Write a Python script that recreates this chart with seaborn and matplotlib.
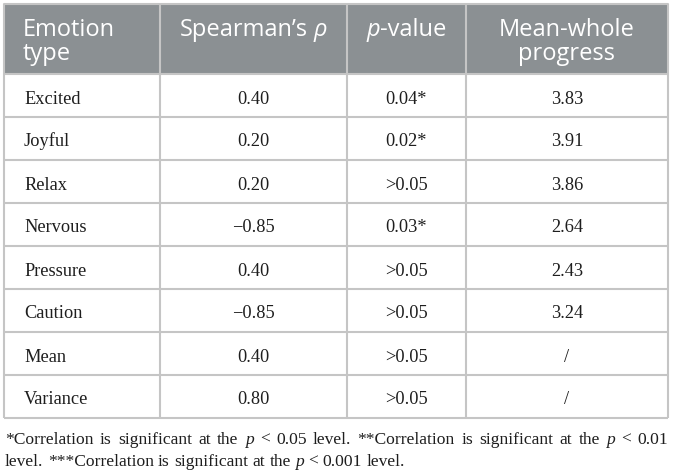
import matplotlib
matplotlib.use("Agg")
import matplotlib.pyplot as plt
import seaborn as sns
from matplotlib.patches import Rectangle

# table contents
emotions = ["Excited", "Joyful", "Relax", "Nervous", "Pressure", "Caution", "Mean", "Variance"]
rho = [0.40, 0.20, 0.20, -0.85, 0.40, -0.85, 0.40, 0.80]
p_values = ["0.04*", "0.02*", ">0.05", "0.03*", ">0.05", ">0.05", ">0.05", ">0.05"]
progress = [3.83, 3.91, 3.86, 2.64, 2.43, 3.24, None, None]
# header: list of lines, each a list of (text, italic) runs
headers = [
    [[("Emotion", False)], [("type", False)]],
    [[("Spearman\u2019s", False), (" ", False), ("\u03c1", True)]],
    [[("p", True), ("-value", False)]],
    [[("Mean-whole", False)], [("progress", False)]],
]
foot_line1 = [("*Correlation", False), ("is", False), ("significant", False), ("at", False), ("the", False),
              ("p", True), ("<", False), ("0.05", False), ("level.", False), ("**Correlation", False),
              ("is", False), ("significant", False), ("at", False), ("the", False),
              ("p", True), ("<", False), ("0.01", False)]
foot_line2 = [("level.", False), (" ", False), ("***Correlation", False), (" ", False), ("is", False), (" ", False),
              ("significant", False), (" ", False), ("at", False), (" ", False), ("the", False), (" ", False),
              ("p", True), (" ", False), ("<", False), (" ", False), ("0.001", False), (" ", False), ("level.", False)]

sns.set_theme(style="white")
SERIF = ["Liberation Serif", "DejaVu Serif"]
SANS = ["Open Sans", "DejaVu Sans"]
plt.rcParams["font.family"] = SERIF

HEAD_BG = "#8b9093"
GRID = "#c5c5c5"
TXT = "#1e1e1e"

col_edges = [4, 160, 347, 466, 668]
top, head_h, row_h = 4, 70, 43

fig = plt.figure(figsize=(6.73, 4.76), dpi=100)
ax = fig.add_axes([0, 0, 1, 1])
ax.set_xlim(0, 673)
ax.set_ylim(476, 0)
ax.axis("off")
renderer = fig.canvas.get_renderer()


def width_of(t):
    return t.get_window_extent(renderer=renderer).width


def draw_runs(x, y, runs, ha, size, family, color, total=None):
    """Draw runs of text side by side on one baseline. ' ' entries are spaces."""
    objs = []
    for s, it in runs:
        if s == " ":
            objs.append(None)
            continue
        objs.append(ax.text(0, y, s, ha="left", va="baseline", fontsize=size, family=family,
                            style="italic" if it else "normal", color=color))
    probe_a = ax.text(0, y, "xx", fontsize=size, family=family)
    probe_b = ax.text(0, y, "x x", fontsize=size, family=family)
    sp = width_of(probe_b) - width_of(probe_a)
    probe_a.remove()
    probe_b.remove()
    widths = [sp if o is None else width_of(o) for o in objs]
    if total is not None:
        # justified: distribute free space evenly between words
        gap = (total - sum(widths)) / (len(objs) - 1)
    else:
        gap = 0
    full = sum(widths) + gap * (len(objs) - 1)
    cx = x if ha == "left" else x - full / 2
    for o, w in zip(objs, widths):
        if o is not None:
            o.set_x(cx)
        cx += w + gap


# header band
ax.add_patch(Rectangle((col_edges[0], top), col_edges[-1] - col_edges[0], head_h,
                       facecolor=HEAD_BG, edgecolor="none"))
for j, lines in enumerate(headers):
    x0, x1 = col_edges[j], col_edges[j + 1]
    for k, runs in enumerate(lines):
        yb = top + 32.5 + 23 * k
        if j == 0:
            draw_runs(x0 + 19, yb, runs, "left", 17, SANS, "white")
        else:
            draw_runs((x0 + x1) / 2, yb, runs, "center", 17, SANS, "white")

# body rows
body_top = top + head_h
for i in range(len(emotions)):
    yb = body_top + row_h * i + 29.5
    r = rho[i]
    rho_txt = ("\u2212" if r < 0 else "") + f"{abs(r):.2f}"
    prog_txt = "/" if progress[i] is None else f"{progress[i]:.2f}"
    cells = [emotions[i], rho_txt, p_values[i], prog_txt]
    for j, c in enumerate(cells):
        x0, x1 = col_edges[j], col_edges[j + 1]
        if j == 0:
            ax.text(x0 + 20, yb, c, ha="left", va="baseline", fontsize=13.2, color=TXT)
        else:
            ax.text((x0 + x1) / 2, yb, c, ha="center", va="baseline", fontsize=13.2, color=TXT)

# grid lines
bottom = body_top + row_h * len(emotions)
for i in range(len(emotions) + 1):
    y = body_top + row_h * i
    ax.plot([col_edges[0], col_edges[-1]], [y, y], color=GRID, lw=1.5, solid_capstyle="butt")
for x in col_edges:
    ax.plot([x, x], [top, bottom], color=GRID, lw=1.5, solid_capstyle="butt")
ax.plot([col_edges[0], col_edges[-1]], [top, top], color=GRID, lw=1.5)

# footnote
draw_runs(5, bottom + 25.5, foot_line1, "left", 12.6, SERIF, TXT, total=col_edges[-1] - 5)
draw_runs(5, bottom + 48, foot_line2, "left", 12.6, SERIF, TXT)

fig.savefig("out.png", dpi=100, facecolor="white")
